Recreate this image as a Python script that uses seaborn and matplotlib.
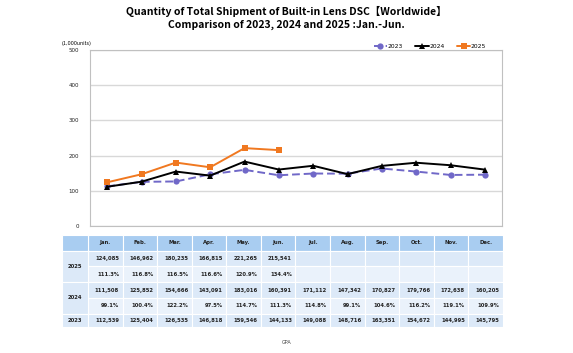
import matplotlib
matplotlib.use('Agg')
import matplotlib.pyplot as plt
import seaborn as sns
import pandas as pd
import numpy as np
from matplotlib.patches import Rectangle

# Data (1,000 units shown on chart, units in table)
months = ['Jan.', 'Feb.', 'Mar.', 'Apr.', 'May.', 'Jun.', 'Jul.', 'Aug.', 'Sep.', 'Oct.', 'Nov.', 'Dec.']
ship_2025 = [124085, 146962, 180235, 166815, 221265, 215541]
pct_2025 = [111.3, 116.8, 116.5, 116.6, 120.9, 134.4]
ship_2024 = [111508, 125852, 154666, 143091, 183016, 160391, 171112, 147342, 170827, 179766, 172638, 160205]
pct_2024 = [99.1, 100.4, 122.2, 97.5, 114.7, 111.3, 114.8, 99.1, 104.6, 116.2, 119.1, 109.9]
ship_2023 = [112539, 125404, 126535, 146818, 159546, 144133, 149088, 148716, 163351, 154672, 144995, 145795]

sns.set_theme(style='white')
plt.rcParams['font.family'] = ['DejaVu Sans', 'Noto Sans CJK JP']
plt.rcParams['text.color'] = 'black'
plt.rcParams['ytick.color'] = '#222222'

W, H = 573, 353
fig = plt.figure(figsize=(W / 100, H / 100), dpi=100)

def px_axes(x0, y0, x1, y1):
    return fig.add_axes([x0 / W, 1 - y1 / H, (x1 - x0) / W, (y1 - y0) / H])

# Title
fig.text(0.5, 1 - 11 / H, 'Quantity of Total Shipment of Built-in Lens DSC【Worldwide】',
         ha='center', va='center', fontsize=7.5, fontweight='bold', family=['Noto Sans CJK JP'])
fig.text(0.5, 1 - 25 / H, 'Comparison of 2023, 2024 and 2025 :Jan.-Jun.',
         ha='center', va='center', fontsize=7.5, fontweight='bold', family=['Noto Sans CJK JP'])

# Line chart
ax = px_axes(90, 50, 502, 226)
rows = []
for year, vals in [('2023', ship_2023), ('2024', ship_2024), ('2025', ship_2025)]:
    for i, v in enumerate(vals):
        rows.append({'month': i, 'value': v / 1000, 'year': year})
df = pd.DataFrame(rows)

palette = {'2023': '#7068c8', '2024': '#000000', '2025': '#f07820'}
markers = {'2023': 'o', '2024': '^', '2025': 's'}
dashes = {'2023': (4, 2), '2024': '', '2025': ''}
sns.lineplot(data=df, x='month', y='value', hue='year', style='year', palette=palette,
             markers=markers, dashes=dashes, markersize=4.5, linewidth=1.4,
             markeredgewidth=0, ax=ax)

ax.set_xlim(-0.5, 11.5)
ax.set_ylim(0, 500)
ax.set_yticks(range(0, 501, 100))
ax.set_xticks([])
ax.set_xlabel('')
ax.set_ylabel('')
ax.tick_params(axis='y', labelsize=4, length=0, pad=8)
ax.yaxis.grid(True, color='#d8d8d8', linewidth=1)
for s in ax.spines.values():
    s.set_color('#c0c0c0')
    s.set_linewidth(0.8)
fig.text(62 / W, 1 - 44 / H, '(1,000units)', fontsize=3.5, va='center', ha='left')

leg = ax.legend(loc='lower right', bbox_to_anchor=(0.962, 1.005), ncol=3, frameon=False,
                fontsize=4.3, handlelength=2.3, columnspacing=2.0, handletextpad=0.1,
                borderaxespad=0, borderpad=0)

# Table
tax = px_axes(62, 235, 503, 327)
col_w0 = 0.75
n_rows = 6
tax.set_xlim(-col_w0, 12)
tax.axis('off')

head_c = '#a9cdf1'
val_c = '#dce9f8'
pct_c = '#eaf2fb'
row_colors = [head_c, val_c, pct_c, val_c, pct_c, val_c]
row_h = [1, 1, 1, 1, 1, 0.85]
y_edges = np.concatenate([[0], np.cumsum(row_h)])
tax.set_ylim(y_edges[-1], 0)
lw = 0.8

for r in range(n_rows):
    for c in range(12):
        tax.add_patch(Rectangle((c, y_edges[r]), 1, row_h[r], facecolor=row_colors[r],
                                edgecolor='white', linewidth=lw))
# header label cell
tax.add_patch(Rectangle((-col_w0, 0), col_w0, 1, facecolor=head_c, edgecolor='white', linewidth=lw))
# year label cells
for yr, r0, span in [('2025', 1, 2), ('2024', 3, 2), ('2023', 5, 1)]:
    h = y_edges[r0 + span] - y_edges[r0]
    tax.add_patch(Rectangle((-col_w0, y_edges[r0]), col_w0, h, facecolor=val_c,
                            edgecolor='white', linewidth=lw))
    tax.text(-col_w0 / 2, y_edges[r0] + h / 2, yr, ha='center', va='center',
             fontsize=3.8, fontweight='bold', color='#222222')

def ymid(r):
    return (y_edges[r] + y_edges[r + 1]) / 2

fs = 3.8
for c, m in enumerate(months):
    tax.text(c + 0.5, ymid(0), m, ha='center', va='center', fontsize=fs, fontweight='bold', color='#222222')
for c, v in enumerate(ship_2025):
    tax.text(c + 0.9, ymid(1), f'{v:,}', ha='right', va='center', fontsize=fs, fontweight='bold', color='#222222')
for c, v in enumerate(pct_2025):
    tax.text(c + 0.9, ymid(2), f'{v:.1f}%', ha='right', va='center', fontsize=fs, fontweight='bold', color='#222222')
for c, v in enumerate(ship_2024):
    tax.text(c + 0.9, ymid(3), f'{v:,}', ha='right', va='center', fontsize=fs, fontweight='bold', color='#222222')
for c, v in enumerate(pct_2024):
    tax.text(c + 0.9, ymid(4), f'{v:.1f}%', ha='right', va='center', fontsize=fs, fontweight='bold', color='#222222')
for c, v in enumerate(ship_2023):
    tax.text(c + 0.9, ymid(5), f'{v:,}', ha='right', va='center', fontsize=fs, fontweight='bold', color='#222222')

fig.text(0.5, 1 - 342 / H, 'GPA', ha='center', va='center', fontsize=3.5, color='#444444')

fig.savefig('out.png', dpi=100, facecolor='white')
plt.close(fig)
